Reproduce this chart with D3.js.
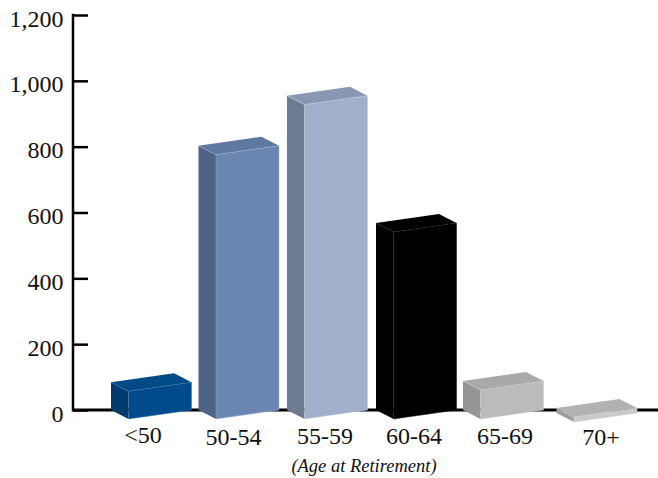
<!DOCTYPE html>
<html><head><meta charset="utf-8">
<script src="https://cdnjs.cloudflare.com/ajax/libs/d3/7.8.5/d3.min.js"></script>
<style>html,body{margin:0;padding:0;background:#fff}svg{display:block}text{font-family:"Liberation Serif",serif;fill:#111}</style>
</head><body><svg id="c" width="658" height="478"></svg>
<script>
const categories = ["<50","50-54","55-59","60-64","65-69","70+"];
const values = [84,803,955,568,88,15];
const frontColors = ["#004B8C","#6C86B2","#A1AFCA","#000000","#B9BBBD","#C8CACC"];
const sideColors = ["#003B70","#4F6485","#6E7A90","#000000","#939597","#9C9EA0"];
const topColors = ["#004A85","#5E789F","#8A97B2","#000000","#A7A9AB","#B0B2B4"];
const edgeColors = ["#3F74A8","#9FB4D4","#C5CFE2","#151515","#C8C9CB","#D0D1D3"];
const yTicks = [0,200,400,600,800,1000,1200];
const axisTitle = "(Age at Retirement)";

const svg = d3.select("#c");
const y = d3.scaleLinear().domain([0,1200]).range([410,15]);
const leftX = d3.scaleOrdinal().domain(categories).range([111,198.5,287,376,463,556.5]);
const baseDrop = d3.scaleOrdinal().domain(categories).range([0,0,0,0,0,3]);
const depthX = 17.5, depthY = 9, frontW = 63, rise = 9;

// axes
const yAxis = d3.axisLeft(y).tickValues(yTicks).tickSize(-15).tickPadding(9).tickFormat(d3.format(","));
const gy = svg.append("g").attr("transform","translate(73,0)").call(yAxis);
gy.select(".domain").remove();
gy.selectAll("line").attr("stroke","#000").attr("stroke-width",2.5);
gy.selectAll("text").attr("font-size",24).attr("x",-9.5).attr("dy",11).style("font-family",'"Liberation Serif",serif').attr("fill","#111");
svg.append("line").attr("x1",73).attr("x2",73).attr("y1",13.8).attr("y2",411.5).attr("stroke","#000").attr("stroke-width",2.5);
svg.append("line").attr("x1",73).attr("x2",658).attr("y1",410).attr("y2",410).attr("stroke","#000").attr("stroke-width",3);

// bars
const g = svg.selectAll("g.bar").data(categories.map((c,i)=>({c,i,v:values[i]}))).join("g").attr("class","bar");
const poly = pts => pts.map(p=>p.join(",")).join(" ");
g.each(function(d){
  const el = d3.select(this), L = leftX(d.c), drop = baseDrop(d.c), T = y(d.v)+drop, B = y(0)+drop;
  const fl = L+depthX, fr = fl+frontW;
  const side = [[L,T],[fl,T+depthY],[fl,B+depthY],[L,B]];
  const front = [[fl,T+depthY],[fr,T+depthY-rise],[fr,B+depthY-rise],[fl,B+depthY]];
  const top = [[L,T],[L+frontW,T-rise],[fr,T+depthY-rise],[fl,T+depthY]];
  el.append("polygon").attr("points",poly(side)).attr("fill",sideColors[d.i]);
  el.append("polygon").attr("points",poly(front)).attr("fill",frontColors[d.i]);
  el.append("polygon").attr("points",poly(top)).attr("fill",topColors[d.i]);
  el.append("polyline").attr("points",poly([[L,T],[fl,T+depthY],[fr,T+depthY-rise],[fr,B+depthY-rise],[fl,B+depthY]])).attr("fill","none").attr("stroke",edgeColors[d.i]).attr("stroke-width",0.5);
  el.append("line").attr("x1",fl).attr("x2",fl).attr("y1",T+depthY).attr("y2",B+depthY).attr("stroke",edgeColors[d.i]).attr("stroke-width",0.4);
});

// labels
const labelCx = d3.scaleOrdinal().domain(categories).range([143,233.5,325,414,505,601]);
const labelBase = d3.scaleOrdinal().domain(categories).range([443,445,444,444,444,445]);
svg.selectAll("text.xl").data(categories).join("text").attr("class","xl")
  .attr("x",d=>labelCx(d)).attr("y",d=>labelBase(d)).attr("text-anchor","middle").attr("font-size",24).text(d=>d);
svg.append("text").attr("x",364).attr("y",472).attr("text-anchor","middle").attr("font-size",18.5).attr("font-style","italic").text(axisTitle);
</script></body></html>
